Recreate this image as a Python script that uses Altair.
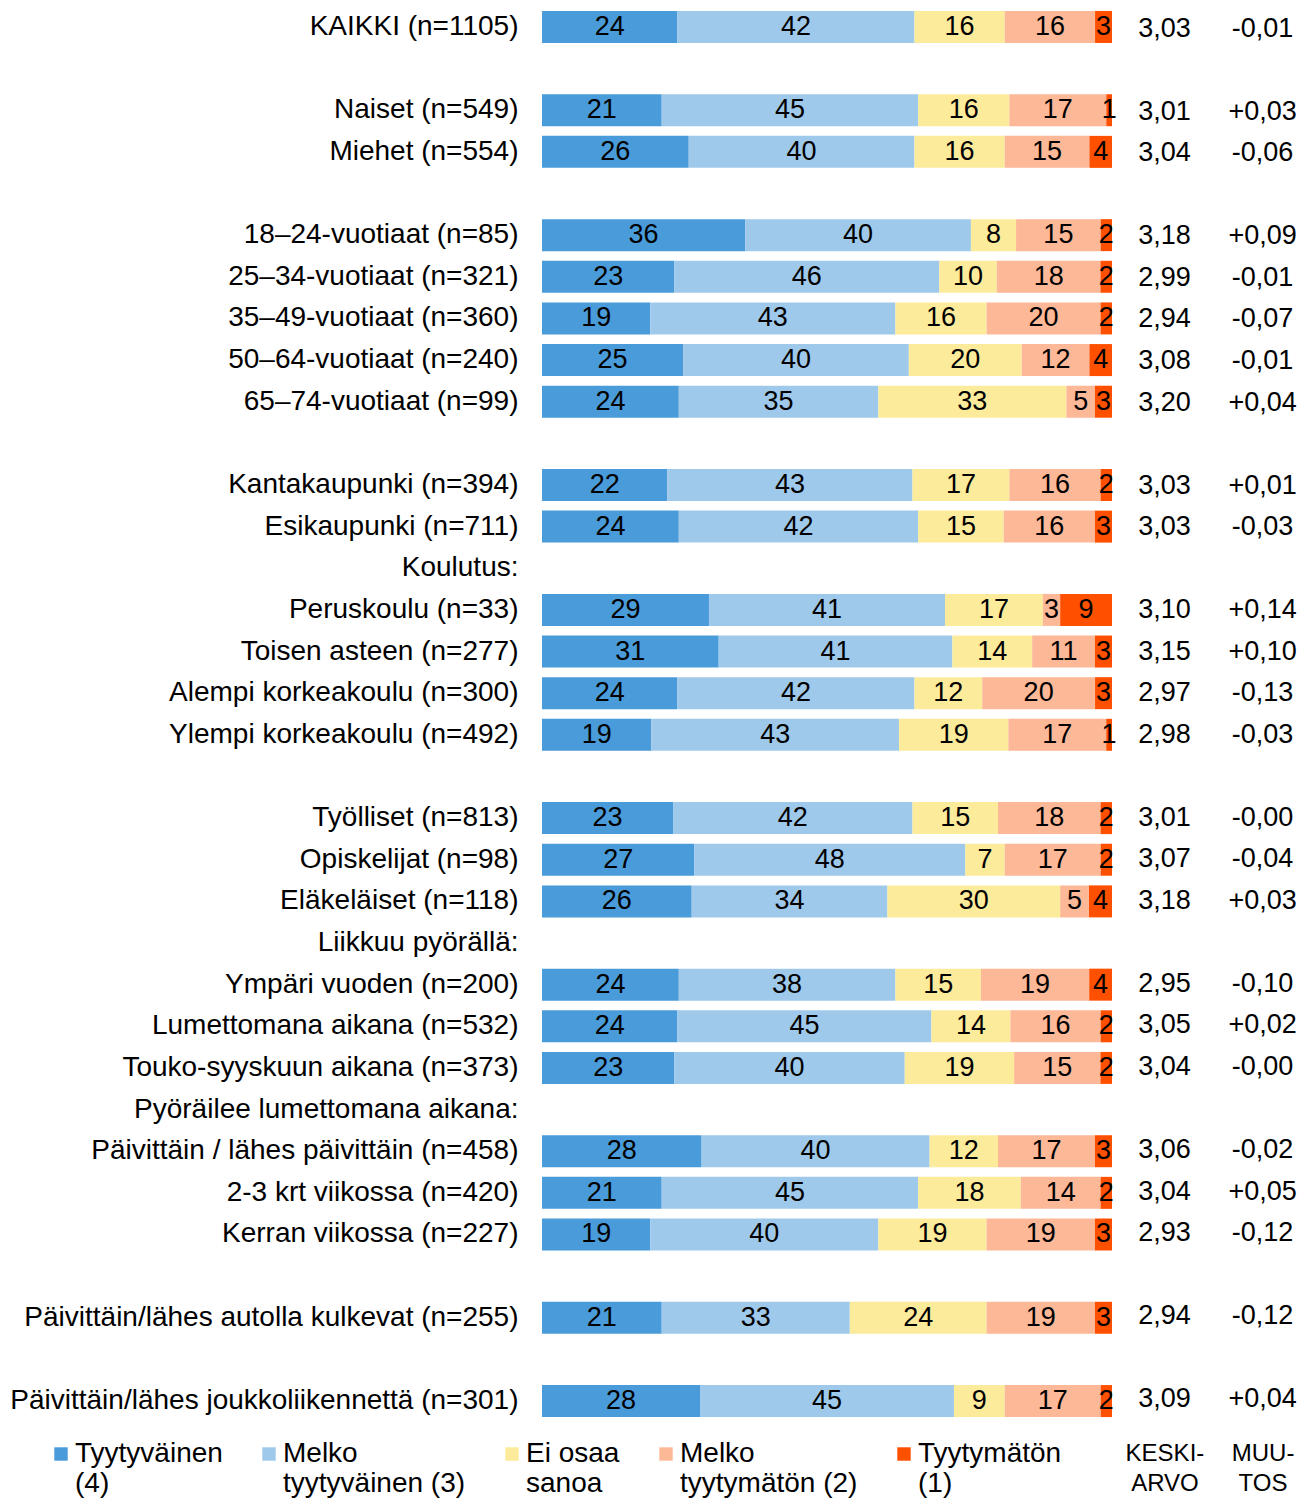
import altair as alt
import pandas as pd

labels = [
    "KAIKKI (n=1105)", " ", "Naiset (n=549)", "Miehet (n=554)", "  ",
    "18–24-vuotiaat (n=85)", "25–34-vuotiaat (n=321)", "35–49-vuotiaat (n=360)",
    "50–64-vuotiaat (n=240)", "65–74-vuotiaat (n=99)", "   ",
    "Kantakaupunki (n=394)", "Esikaupunki (n=711)", "Koulutus:",
    "Peruskoulu (n=33)", "Toisen asteen (n=277)", "Alempi korkeakoulu (n=300)",
    "Ylempi korkeakoulu (n=492)", "    ",
    "Työlliset (n=813)", "Opiskelijat (n=98)", "Eläkeläiset (n=118)",
    "Liikkuu pyörällä:", "Ympäri vuoden (n=200)", "Lumettomana aikana (n=532)",
    "Touko-syyskuun aikana (n=373)", "Pyöräilee lumettomana aikana:",
    "Päivittäin / lähes päivittäin (n=458)", "2-3 krt viikossa (n=420)",
    "Kerran viikossa (n=227)", "     ",
    "Päivittäin/lähes autolla kulkevat (n=255)", "      ",
    "Päivittäin/lähes joukkoliikennettä (n=301)",
]

bar_rows = [
    "KAIKKI (n=1105)", "Naiset (n=549)", "Miehet (n=554)",
    "18–24-vuotiaat (n=85)", "25–34-vuotiaat (n=321)", "35–49-vuotiaat (n=360)",
    "50–64-vuotiaat (n=240)", "65–74-vuotiaat (n=99)",
    "Kantakaupunki (n=394)", "Esikaupunki (n=711)",
    "Peruskoulu (n=33)", "Toisen asteen (n=277)", "Alempi korkeakoulu (n=300)",
    "Ylempi korkeakoulu (n=492)",
    "Työlliset (n=813)", "Opiskelijat (n=98)", "Eläkeläiset (n=118)",
    "Ympäri vuoden (n=200)", "Lumettomana aikana (n=532)",
    "Touko-syyskuun aikana (n=373)",
    "Päivittäin / lähes päivittäin (n=458)", "2-3 krt viikossa (n=420)",
    "Kerran viikossa (n=227)",
    "Päivittäin/lähes autolla kulkevat (n=255)",
    "Päivittäin/lähes joukkoliikennettä (n=301)",
]

tyytyvainen = [24, 21, 26, 36, 23, 19, 25, 24, 22, 24, 29, 31, 24, 19, 23, 27, 26, 24, 24, 23, 28, 21, 19, 21, 28]
melko_tyyt = [42, 45, 40, 40, 46, 43, 40, 35, 43, 42, 41, 41, 42, 43, 42, 48, 34, 38, 45, 40, 40, 45, 40, 33, 45]
ei_osaa = [16, 16, 16, 8, 10, 16, 20, 33, 17, 15, 17, 14, 12, 19, 15, 7, 30, 15, 14, 19, 12, 18, 19, 24, 9]
melko_tyytymaton = [16, 17, 15, 15, 18, 20, 12, 5, 16, 16, 3, 11, 20, 17, 18, 17, 5, 19, 16, 15, 17, 14, 19, 19, 17]
tyytymaton = [3, 1, 4, 2, 2, 2, 4, 3, 2, 3, 9, 3, 3, 1, 2, 2, 4, 4, 2, 2, 3, 2, 3, 3, 2]

keskiarvo = ["3,03", "3,01", "3,04", "3,18", "2,99", "2,94", "3,08", "3,20", "3,03", "3,03",
             "3,10", "3,15", "2,97", "2,98", "3,01", "3,07", "3,18", "2,95", "3,05", "3,04",
             "3,06", "3,04", "2,93", "2,94", "3,09"]
muutos = ["-0,01", "+0,03", "-0,06", "+0,09", "-0,01", "-0,07", "-0,01", "+0,04", "+0,01", "-0,03",
          "+0,14", "+0,10", "-0,13", "-0,03", "-0,00", "-0,04", "+0,03", "-0,10", "+0,02", "-0,00",
          "-0,02", "+0,05", "-0,12", "-0,12", "+0,04"]

categories = ["Tyytyväinen|(4)", "Melko|tyytyväinen (3)", "Ei osaa|sanoa",
              "Melko|tyytymätön (2)", "Tyytymätön|(1)"]
colors = ["#4a9bd9", "#9fc9ea", "#fdeb9c", "#fdb897", "#ff5000"]
metrics = ["KESKI-|ARVO", "MUU-|TOS"]

series = [tyytyvainen, melko_tyyt, ei_osaa, melko_tyytymaton, tyytymaton]
rows = []
for i, r in enumerate(bar_rows):
    for k, cat in enumerate(categories):
        rows.append({"row": r, "cat": cat, "order": k, "value": series[k][i]})
df = pd.DataFrame(rows)

stats = []
for i, r in enumerate(bar_rows):
    stats.append({"row": r, "metric": metrics[0], "txt": keskiarvo[i]})
    stats.append({"row": r, "metric": metrics[1], "txt": muutos[i]})
sdf = pd.DataFrame(stats)

FONT = "Liberation Sans"
FS_LABEL = 28
FS = 27
H = 1412

yscale = alt.Scale(domain=labels, paddingInner=0.23, paddingOuter=0.07)

base = alt.Chart(df).encode(
    y=alt.Y("row:N", scale=yscale, sort=labels,
            axis=alt.Axis(title=None, ticks=False, domain=False, labelPadding=24,
                          labelFontSize=FS_LABEL, labelFont=FONT, labelColor="black",
                          labelLimit=700)),
    x=alt.X("value:Q", stack="normalize", axis=None,
            scale=alt.Scale(domain=[0, 1], nice=False)),
    order=alt.Order("order:Q"),
)

bars = base.mark_bar(size=32).encode(
    color=alt.Color("cat:N", scale=alt.Scale(domain=categories, range=colors),
                    legend=alt.Legend(title=None, orient="none", direction="horizontal",
                                      legendX=-495, legendY=H + 20,
                                      columns=5, symbolType="square", symbolSize=180,
                                      labelFontSize=FS_LABEL, labelFont=FONT, labelColor="black",
                                      labelExpr="split(datum.label, '|')",
                                      columnPadding=32, labelOffset=0, labelLimit=300,
                                      symbolStrokeWidth=0)),
)

texts = base.mark_text(font=FONT, fontSize=FS, color="black").encode(
    x=alt.X("value:Q", stack="normalize", bandPosition=0.5),
    text=alt.Text("value:Q"),
)

left = alt.layer(bars, texts).properties(width=570, height=H)

right = alt.Chart(sdf).mark_text(font=FONT, fontSize=FS, color="black").encode(
    y=alt.Y("row:N", scale=yscale, sort=labels, axis=None),
    x=alt.X("metric:N", sort=metrics,
            scale=alt.Scale(type="point", domain=metrics, padding=0.3),
            axis=alt.Axis(title=None, orient="bottom", ticks=False, domain=False,
                          labelAngle=0, labelFontSize=24, labelFont=FONT, labelColor="black",
                          labelExpr="split(datum.label, '|')", labelPadding=21,
                          labelLineHeight=30)),
    text="txt:N",
).properties(width=157, height=H)

chart = (
    alt.hconcat(left, right, spacing=8,
                padding={"left": 1, "top": 0, "right": 0, "bottom": 0})
    .configure_view(stroke=None)
    .configure_axis(grid=False)
)

chart.save("out.html", embed_options={"renderer": "svg", "actions": False})
